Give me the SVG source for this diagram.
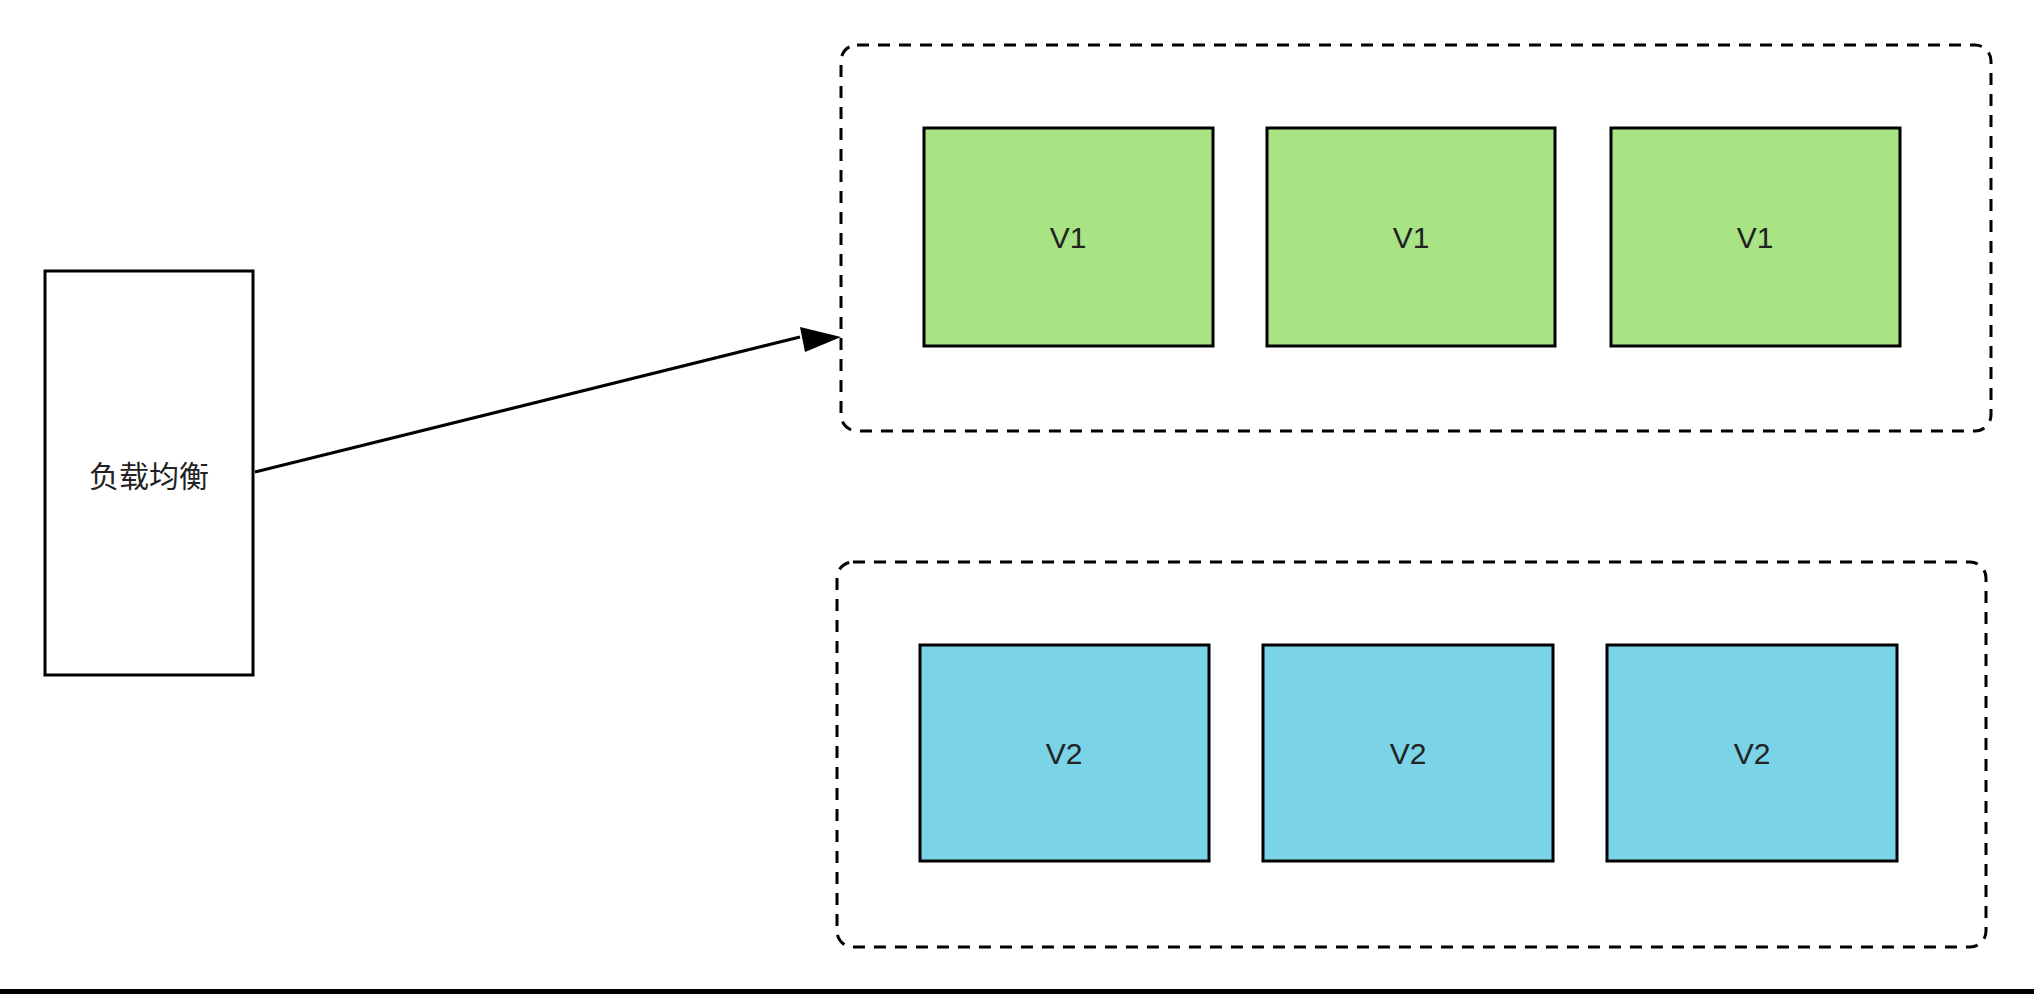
<svg xmlns="http://www.w3.org/2000/svg" width="2034" height="994" viewBox="0 0 2034 994">
<style>
.box{stroke:#000;stroke-width:3}
.grp{fill:none;stroke:#000;stroke-width:3;stroke-dasharray:12 9}
.lbl{font-family:"Liberation Sans","Noto Sans CJK SC",sans-serif;font-size:30px;fill:#222;text-anchor:middle;dominant-baseline:central}
.g{fill:#a8e384}.b{fill:#7ad3e6}
</style>
<defs><marker id="ah" markerWidth="12" markerHeight="10" refX="11" refY="5" orient="auto" markerUnits="userSpaceOnUse" viewBox="0 0 12 10"><path d="M0,0L12,5L0,10z" fill="#000"/></marker></defs>
<rect width="2034" height="994" fill="#fff"/>
<rect x="0" y="989" width="2034" height="5" fill="#000"/>
<g id="group-v1"><rect class="grp" x="841" y="45" width="1150" height="386" rx="16"/></g>
<g id="group-v2"><rect class="grp" x="837" y="562" width="1149" height="385" rx="16"/></g>
<g id="lb"><rect class="box" x="45" y="271" width="208" height="404" fill="#fff"/><text class="lbl" x="149" y="476">负载均衡</text></g>
<g id="v1a"><rect class="box g" x="924" y="128" width="289" height="218"/><text class="lbl" x="1068" y="237">V1</text></g>
<g id="v1b"><rect class="box g" x="1267" y="128" width="288" height="218"/><text class="lbl" x="1411" y="237">V1</text></g>
<g id="v1c"><rect class="box g" x="1611" y="128" width="289" height="218"/><text class="lbl" x="1755" y="237">V1</text></g>
<g id="v2a"><rect class="box b" x="920" y="645" width="289" height="216"/><text class="lbl" x="1064" y="753">V2</text></g>
<g id="v2b"><rect class="box b" x="1263" y="645" width="290" height="216"/><text class="lbl" x="1408" y="753">V2</text></g>
<g id="v2c"><rect class="box b" x="1607" y="645" width="290" height="216"/><text class="lbl" x="1752" y="753">V2</text></g>
<g id="connectors"><line x1="255" y1="472" x2="800" y2="337" stroke="#000" stroke-width="3"/><path d="M841,337L800,327L805,352z" fill="#000"/></g>
</svg>
